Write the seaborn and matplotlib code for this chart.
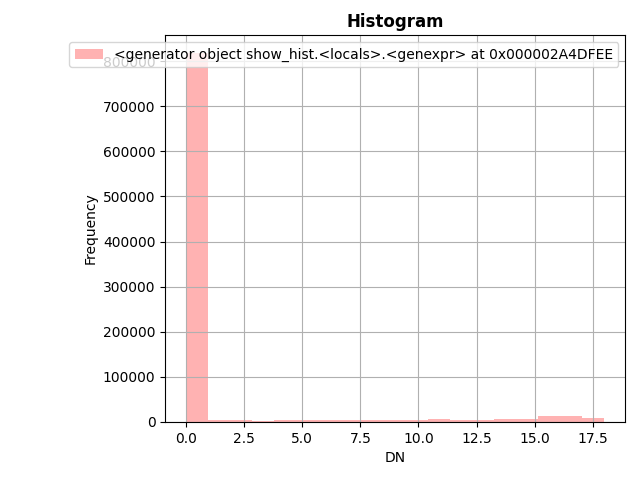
import matplotlib
matplotlib.use("Agg")
import matplotlib.pyplot as plt
import seaborn as sns
import numpy as np

# DN value bins (19 equal bins over 0..18) and their counts
bin_lo, bin_hi, n_bins = 0, 18, 19
counts = [817000, 4500, 4500, 2000, 4500, 4500, 4500, 4500, 4500, 4500,
          4500, 7000, 4500, 4500, 6500, 6500, 13500, 13500, 9500]
label = "<generator object show_hist.<locals>.<genexpr> at 0x000002A4DFEE"

edges = np.linspace(bin_lo, bin_hi, n_bins + 1)
centers = (edges[:-1] + edges[1:]) / 2

fig, ax = plt.subplots(figsize=(6.4, 4.8), dpi=100)
fig.subplots_adjust(left=0.258, right=0.977, top=0.927, bottom=0.121)
sns.histplot(x=centers, weights=counts, bins=n_bins, binrange=(bin_lo, bin_hi),
             color="red", alpha=0.3, linewidth=0, ax=ax, label=label)
ax.set_xlim(-0.9, 18.9)
ax.set_ylim(0, 817000 * 1.05)
ax.grid(True)
ax.set_title("Histogram", fontweight="bold")
ax.set_xlabel("DN")
ax.set_ylabel("Frequency")
ax.legend(loc="upper right")
fig.savefig("out.png", dpi=100)
